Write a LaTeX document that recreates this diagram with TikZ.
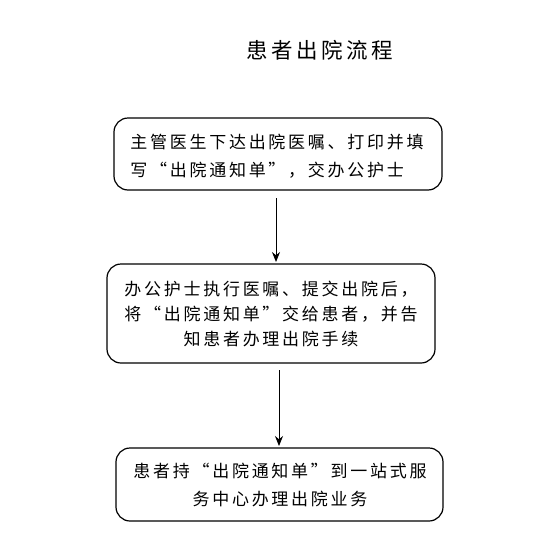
\documentclass[tikz,border=0pt]{standalone}
\usepackage{fontspec}
\setmainfont{Noto Sans CJK SC}[LetterSpace=16]
\usetikzlibrary{arrows.meta}
\begin{document}
\begin{tikzpicture}[x=1pt,y=-1pt,
  box/.style={draw,line width=1.2pt,rounded corners=14pt},
  txt/.style={font=\fontsize{17}{28}\selectfont,inner sep=0pt},
  arr/.style={line width=1pt,-{Stealth[length=10pt,width=8pt]}}]
\useasboundingbox (0,0) rectangle (560,536);
\node[font=\fontsize{21.5}{24}\selectfont] (title) at (320,50) {患者出院流程};
\draw[box] (114,118) rectangle (442,190);
\node[txt,align=left] (t1) at (277,156) {主管医生下达出院医嘱、打印并填\\写“出院通知单”，交办公护士};
\draw[box] (107,264) rectangle (435,363);
\node[txt,align=center,font=\fontsize{17}{25}\selectfont] (t2) at (271,314) {办公护士执行医嘱、提交出院后，\\将“出院通知单”交给患者，并告\\知患者办理出院手续};
\draw[box] (116,448) rectangle (443,521);
\node[txt,align=center] (t3) at (280,485) {患者持“出院通知单”到一站式服\\务中心办理出院业务};
\coordinate (a1s) at (276,198);
\coordinate (a1e) at (276,262);
\coordinate (a2s) at (279,370);
\coordinate (a2e) at (279,446);
\draw[arr] (a1s) -- (a1e);
\draw[arr] (a2s) -- (a2e);
\end{tikzpicture}
\end{document}
